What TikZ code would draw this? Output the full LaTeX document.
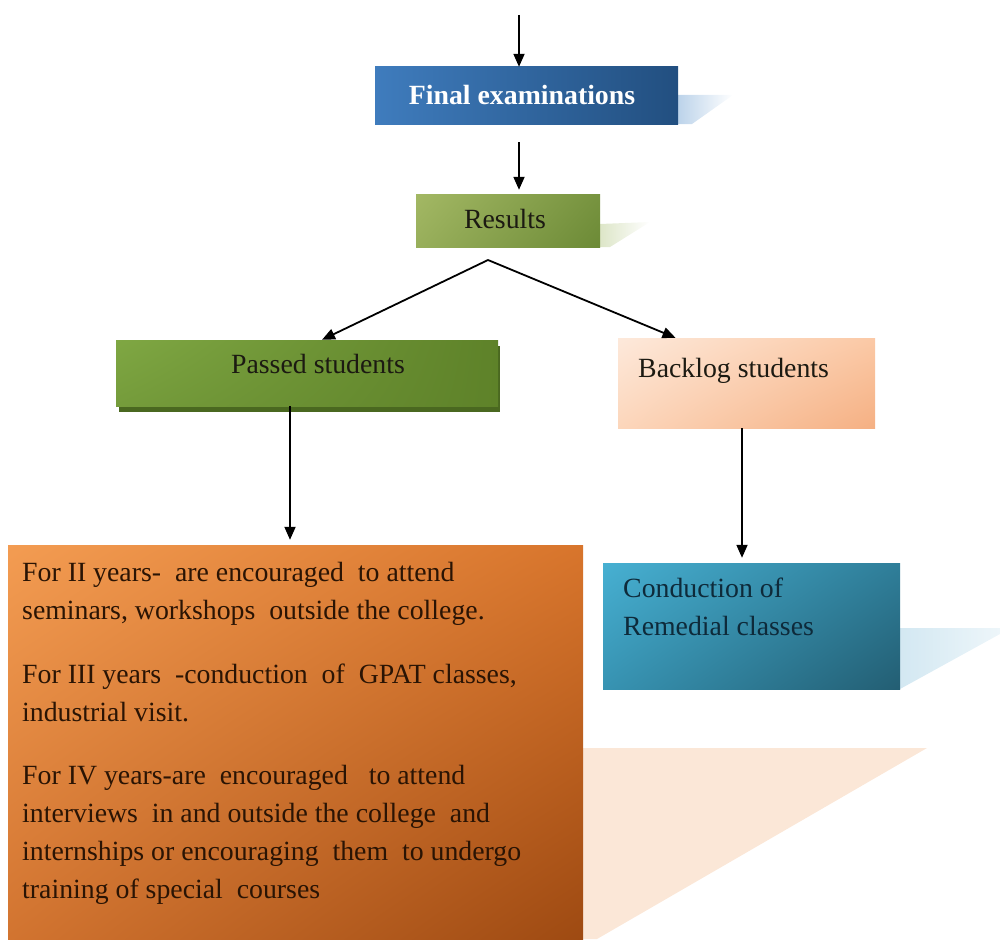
\documentclass[tikz,border=0pt]{standalone}
\usepackage{fontspec}
\setmainfont{Liberation Serif}
\usetikzlibrary{arrows.meta,calc,shadings}
\definecolor{feL}{HTML}{3F7CBD}
\definecolor{feR}{HTML}{224F80}
\definecolor{feS}{HTML}{BCD3EA}
\definecolor{reL}{HTML}{A3B864}
\definecolor{reR}{HTML}{6C8A36}
\definecolor{reS}{HTML}{DDE6C8}
\definecolor{paL}{HTML}{7FA743}
\definecolor{paR}{HTML}{5E8229}
\definecolor{paD}{HTML}{4A6820}
\definecolor{blUL}{HTML}{FDE9DB}
\definecolor{blUR}{HTML}{FBC9A6}
\definecolor{blLL}{HTML}{FCD6BB}
\definecolor{blLR}{HTML}{F5B083}
\definecolor{bgUL}{HTML}{F39C52}
\definecolor{bgUR}{HTML}{D8752C}
\definecolor{bgLL}{HTML}{D27430}
\definecolor{bgLR}{HTML}{9E4A12}
\definecolor{bgS}{HTML}{FBE7D7}
\definecolor{coUL}{HTML}{47B0D2}
\definecolor{coUR}{HTML}{2F7E99}
\definecolor{coLL}{HTML}{3793B2}
\definecolor{coLR}{HTML}{235E73}
\definecolor{coS}{HTML}{D3E8F2}
\definecolor{darktxt}{HTML}{1C1A12}
\definecolor{brtxt}{HTML}{2A1404}
\definecolor{cotxt}{HTML}{0E2A3A}
\begin{document}
\begin{tikzpicture}[x=1pt,y=-1pt,
  box/.style={rectangle,inner sep=0pt,draw=none},
  arr/.style={line width=1.8pt,-{Triangle[length=13pt,width=11pt]}},
  lbl/.style={inner sep=0pt,font=\fontsize{27.8}{38}\selectfont}]
\useasboundingbox (0,0) rectangle (1000,939);
% shadows
\shade[left color=feS,right color=white] (678,95) -- (733,95) -- (692,124) -- (678,124) -- cycle;
\shade[left color=reS,right color=white] (600,224) -- (650,222) -- (610,247) -- (600,247) -- cycle;
\shade[left color=coS,right color=coS!40!white] (900,628) -- (1000,628) -- (1000,634) -- (900,689) -- cycle;
\fill[bgS] (583,748) -- (927,748) -- (597,939) -- (583,939) -- cycle;
% boxes
\node[box,minimum width=303pt,minimum height=57pt,shade,left color=feL,right color=feR] (fe) at (526.5,95.5) {};
\node[box,minimum width=184pt,minimum height=53pt,shade,upper left=reL,upper right=reR!80!reL,lower left=reL!80!reR,lower right=reR] (res) at (508,220.5) {};
\fill[paD] (119,346) rectangle (500,412);
\node[box,minimum width=382pt,minimum height=66pt,shade,upper left=paL,upper right=paR,lower left=paL!70!paR,lower right=paR] (pass) at (307,373) {};
\node[box,minimum width=257pt,minimum height=90pt,shade,upper left=blUL,upper right=blUR,lower left=blLL,lower right=blLR] (bl) at (746.5,383) {};
\node[box,minimum width=575pt,minimum height=394pt,shade,upper left=bgUL,upper right=bgUR,lower left=bgLL,lower right=bgLR] (big) at (295.5,742) {};
\node[box,minimum width=297pt,minimum height=126pt,shade,upper left=coUL,upper right=coUR,lower left=coLL,lower right=coLR] (co) at (751.5,626) {};
% texts
\node[lbl,anchor=base,text=white,font=\fontsize{27.8}{38}\selectfont\bfseries] (tfe) at (522,105) {Final examinations};
\node[lbl,anchor=base,text=darktxt] (tres) at (505,228) {Results};
\node[lbl,anchor=base,text=darktxt] (tpass) at (318,373) {Passed students};
\node[lbl,anchor=base west,text=darktxt] (tbl) at (638,377) {Backlog students};
\node[lbl,anchor=north west,align=left,text=cotxt] (tco) at (623,578) {Conduction of\\Remedial classes};
\node[lbl,anchor=north west,align=left,text=brtxt] (tbig) at (22,562) {%
For II years-\ \ are encouraged\ \ to attend\\
seminars, workshops\ \ outside the college.\\[25.5pt]
For III years\ \ -conduction\ \ of\ \ GPAT classes,\\
industrial visit.\\[25.5pt]
For IV years-are\ \ encouraged\ \ \ to attend\\
interviews\ \ in and outside the college\ \ and\\
internships or encouraging\ \ them\ \ to undergo\\
training of special\ \ courses};
% connectors
\coordinate (a1) at (519,15);
\coordinate (ap) at (488,260);
\draw[arr] (a1) -- (a1 |- fe.north);
\draw[arr] ($(a1 |- fe.south)+(0,18)$) -- ($(a1 |- res.north)+(0,-4)$);
\draw[arr] (ap) -- ($(pass.north)+(15,0)$);
\draw[arr] (ap) -- ($(bl.north)+(-71,0)$);
\draw[arr] ($(pass.south)+(-17,0)$) -- ($(big.north)+(-5.5,-5)$);
\draw[arr] ($(bl.south)+(-4.5,0)$) -- ($(bl.south |- co.north)+(-4.5,-5)$);
\end{tikzpicture}
\end{document}
